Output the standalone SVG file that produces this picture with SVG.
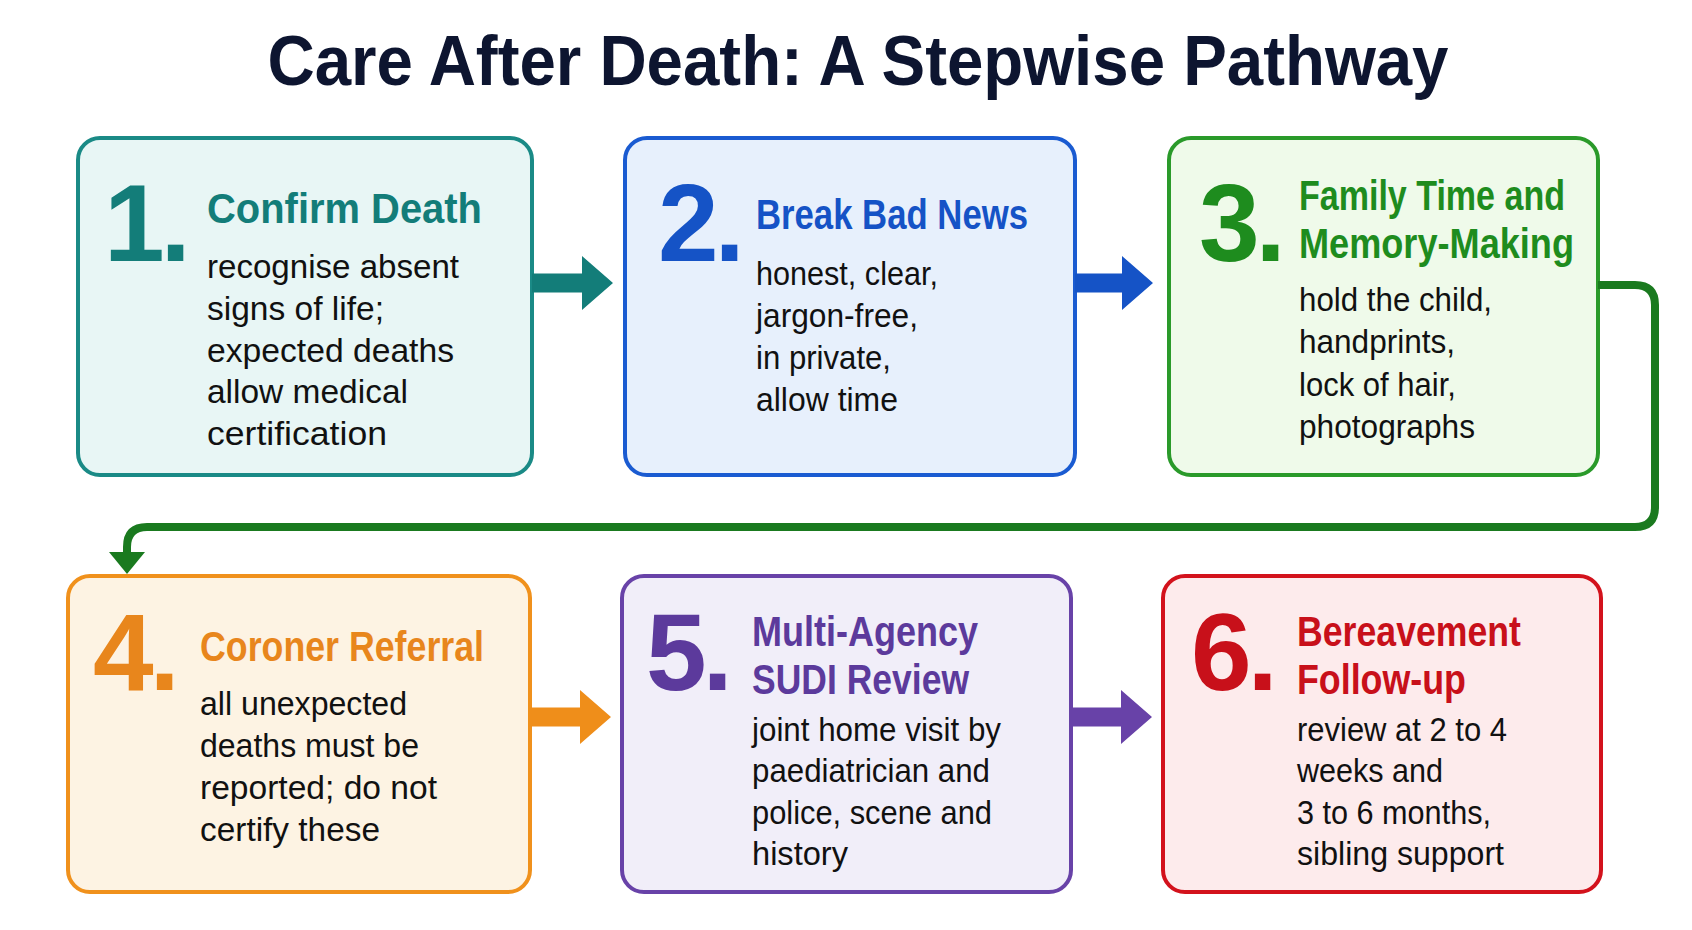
<svg xmlns="http://www.w3.org/2000/svg" width="1692" height="930" viewBox="0 0 1692 930">
<style>
.title{font-family:"Liberation Sans",Arial,sans-serif;font-weight:bold;font-size:70px;fill:#0d1530}
.num{font-family:"Liberation Sans",Arial,sans-serif;font-weight:bold;font-size:109px;letter-spacing:-4px}
.head{font-family:"Liberation Sans",Arial,sans-serif;font-weight:bold;font-size:42px}
.body{font-family:"Liberation Sans",Arial,sans-serif;font-size:34px;fill:#111}
.box{stroke-width:4}
</style>
<rect width="1692" height="930" fill="#ffffff"/>
<text class="title" x="858" y="85" text-anchor="middle" textLength="1181" lengthAdjust="spacingAndGlyphs">Care After Death: A Stepwise Pathway</text>

<g id="step1">
<rect class="box" x="78" y="138" width="454" height="337" rx="22" fill="#e8f6f5" stroke="#1a8a86"/>
<text class="num" x="104" y="261" fill="#137d79">1.</text>
<text class="head" x="207" y="223" fill="#137d79" textLength="275" lengthAdjust="spacingAndGlyphs">Confirm Death</text>
<text class="body" x="207" y="278" textLength="252" lengthAdjust="spacingAndGlyphs">recognise absent</text>
<text class="body" x="207" y="320" textLength="177" lengthAdjust="spacingAndGlyphs">signs of life;</text>
<text class="body" x="207" y="362" textLength="247" lengthAdjust="spacingAndGlyphs">expected deaths</text>
<text class="body" x="207" y="403" textLength="201" lengthAdjust="spacingAndGlyphs">allow medical</text>
<text class="body" x="207" y="445" textLength="180" lengthAdjust="spacingAndGlyphs">certification</text>
</g>

<g id="step2">
<rect class="box" x="625" y="138" width="450" height="337" rx="22" fill="#e7f0fc" stroke="#1a5bd1"/>
<text class="num" x="658" y="261" fill="#1553c6">2.</text>
<text class="head" x="756" y="229" fill="#1553c6" textLength="272" lengthAdjust="spacingAndGlyphs">Break Bad News</text>
<text class="body" x="756" y="285" textLength="182" lengthAdjust="spacingAndGlyphs">honest, clear,</text>
<text class="body" x="756" y="327" textLength="162" lengthAdjust="spacingAndGlyphs">jargon-free,</text>
<text class="body" x="756" y="369" textLength="135" lengthAdjust="spacingAndGlyphs">in private,</text>
<text class="body" x="756" y="411" textLength="142" lengthAdjust="spacingAndGlyphs">allow time</text>
</g>

<g id="step3">
<rect class="box" x="1169" y="138" width="429" height="337" rx="22" fill="#effaea" stroke="#2a9a2a"/>
<text class="num" x="1199" y="261" fill="#1e8c1e">3.</text>
<text class="head" x="1299" y="210" fill="#1e8c1e" textLength="266" lengthAdjust="spacingAndGlyphs">Family Time and</text>
<text class="head" x="1299" y="258" fill="#1e8c1e" textLength="275" lengthAdjust="spacingAndGlyphs">Memory-Making</text>
<text class="body" x="1299" y="311" textLength="193" lengthAdjust="spacingAndGlyphs">hold the child,</text>
<text class="body" x="1299" y="353" textLength="156" lengthAdjust="spacingAndGlyphs">handprints,</text>
<text class="body" x="1299" y="396" textLength="157" lengthAdjust="spacingAndGlyphs">lock of hair,</text>
<text class="body" x="1299" y="438" textLength="176" lengthAdjust="spacingAndGlyphs">photographs</text>
</g>

<g id="step4">
<rect class="box" x="68" y="576" width="462" height="316" rx="22" fill="#fdf3e3" stroke="#f0911c"/>
<text class="num" x="93" y="690" fill="#e8861c">4.</text>
<text class="head" x="200" y="661" fill="#e8861c" textLength="284" lengthAdjust="spacingAndGlyphs">Coroner Referral</text>
<text class="body" x="200" y="715" textLength="207" lengthAdjust="spacingAndGlyphs">all unexpected</text>
<text class="body" x="200" y="757" textLength="219" lengthAdjust="spacingAndGlyphs">deaths must be</text>
<text class="body" x="200" y="799" textLength="237" lengthAdjust="spacingAndGlyphs">reported; do not</text>
<text class="body" x="200" y="841" textLength="180" lengthAdjust="spacingAndGlyphs">certify these</text>
</g>

<g id="step5">
<rect class="box" x="622" y="576" width="449" height="316" rx="22" fill="#f1eef9" stroke="#6842a8"/>
<text class="num" x="646" y="690" fill="#5c3a9c">5.</text>
<text class="head" x="752" y="646" fill="#5c3a9c" textLength="226" lengthAdjust="spacingAndGlyphs">Multi-Agency</text>
<text class="head" x="752" y="694" fill="#5c3a9c" textLength="217" lengthAdjust="spacingAndGlyphs">SUDI Review</text>
<text class="body" x="752" y="741" textLength="249" lengthAdjust="spacingAndGlyphs">joint home visit by</text>
<text class="body" x="752" y="782" textLength="238" lengthAdjust="spacingAndGlyphs">paediatrician and</text>
<text class="body" x="752" y="824" textLength="240" lengthAdjust="spacingAndGlyphs">police, scene and</text>
<text class="body" x="752" y="865" textLength="96" lengthAdjust="spacingAndGlyphs">history</text>
</g>

<g id="step6">
<rect class="box" x="1163" y="576" width="438" height="316" rx="22" fill="#fdebec" stroke="#d3121c"/>
<text class="num" x="1191" y="690" fill="#c8101a">6.</text>
<text class="head" x="1297" y="646" fill="#c8101a" textLength="224" lengthAdjust="spacingAndGlyphs">Bereavement</text>
<text class="head" x="1297" y="694" fill="#c8101a" textLength="169" lengthAdjust="spacingAndGlyphs">Follow-up</text>
<text class="body" x="1297" y="741" textLength="210" lengthAdjust="spacingAndGlyphs">review at 2 to 4</text>
<text class="body" x="1297" y="782" textLength="146" lengthAdjust="spacingAndGlyphs">weeks and</text>
<text class="body" x="1297" y="824" textLength="194" lengthAdjust="spacingAndGlyphs">3 to 6 months,</text>
<text class="body" x="1297" y="865" textLength="207" lengthAdjust="spacingAndGlyphs">sibling support</text>
</g>

<g id="connectors">
<path d="M532 273.5 H582 V256 L613 283 L582 310 V292.5 H532 Z" fill="#137d79"/>
<path d="M1075 273.5 H1122 V256 L1153 283 L1122 310 V292.5 H1075 Z" fill="#1553c6"/>
<path d="M1598 285 H1635 Q1655 285 1655 305 V507 Q1655 527 1635 527 H147 Q127 527 127 547 V556" fill="none" stroke="#1a7a1f" stroke-width="8"/>
<polygon points="109,552 145,552 127,574" fill="#1a7a1f"/>
<path d="M530 707.5 H580 V690 L611 717 L580 744 V726.5 H530 Z" fill="#ef8e1a"/>
<path d="M1071 707.5 H1121 V690 L1152 717 L1121 744 V726.5 H1071 Z" fill="#6842a8"/>
</g>
</svg>
